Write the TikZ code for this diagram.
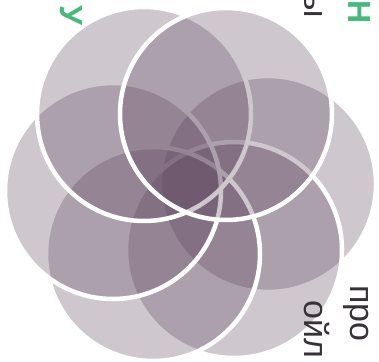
\documentclass[tikz,border=0pt]{standalone}
\usepackage{fontspec}
\setmainfont{Liberation Sans}
\begin{document}
\begin{tikzpicture}[x=1pt,y=-1pt]
\definecolor{petal}{RGB}{95,70,95}
\definecolor{leafgreen}{RGB}{70,185,125}
\definecolor{ink}{RGB}{55,50,55}
\tikzset{
  petalfill/.style={fill=petal, fill opacity=0.3, draw=white, draw opacity=1, line width=4.5pt},
  sidetext/.style={rotate=-90, inner sep=0pt, font=\fontsize{34}{40}\selectfont, text=ink},
  greentext/.style={rotate=-90, inner sep=0pt, font=\bfseries\fontsize{32}{40}\selectfont, text=leafgreen}
}
\useasboundingbox (0,0) rectangle (379,361);
\fill[white] (0,0) rectangle (379,361);
% six overlapping petals, pinwheel order
\path[petalfill] (268,184) circle[radius=108pt];
\path[petalfill] (234,250) circle[radius=108pt];
\path[petalfill] (153,254) circle[radius=107pt];
\path[petalfill] (113,191) circle[radius=108pt];
\path[petalfill] (144,114) circle[radius=107pt];
\path[petalfill] (226,114) circle[radius=106pt];
% text fragments
\node[sidetext, anchor=base west] (pro) at (350,285) {про};
\node[sidetext, anchor=base west] (oil) at (304,300) {ойл};
\node[sidetext, anchor=base east] (yy) at (304,18) {ы};
\node[greentext, anchor=base east] (nn) at (348,24) {Н};
\node[greentext, anchor=base east] (uu) at (60,26) {У};
\end{tikzpicture}
\end{document}
